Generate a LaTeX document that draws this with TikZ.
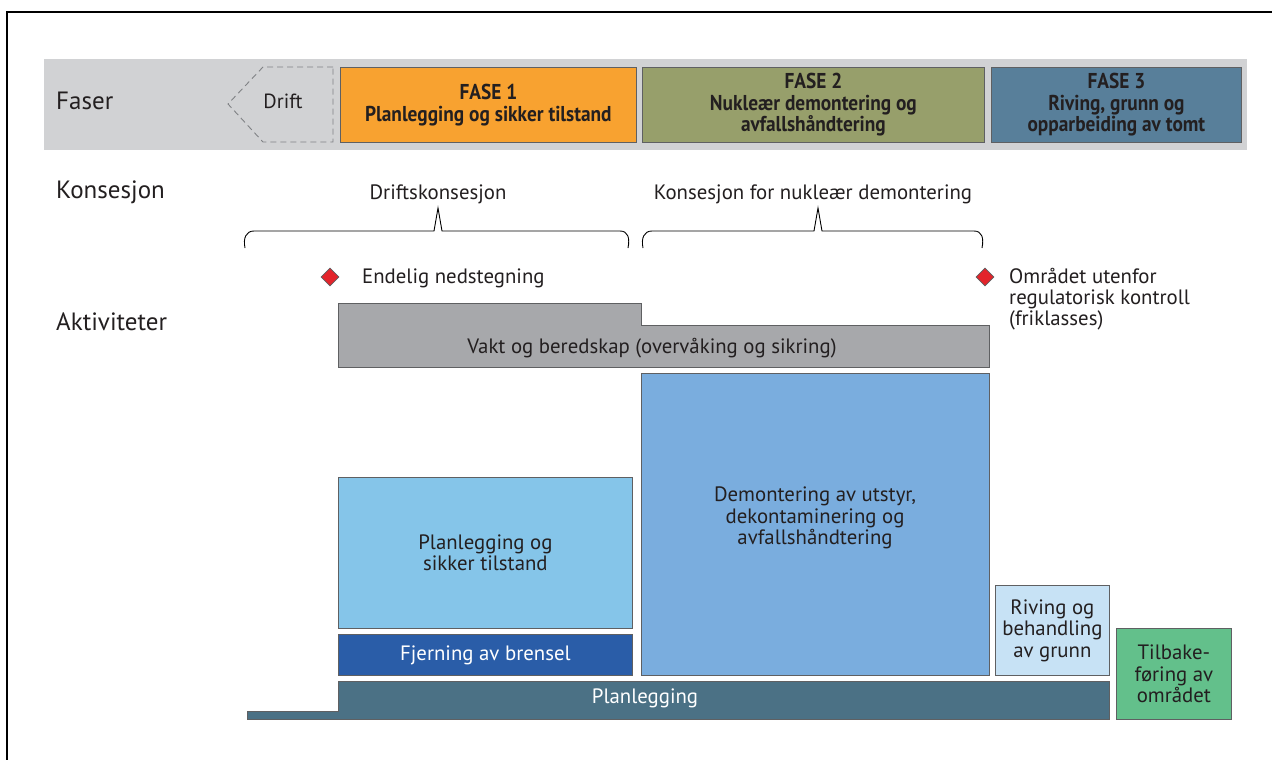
\documentclass[tikz,border=0pt]{standalone}
\usepackage{fontspec}
\setmainfont{PT Sans}
\newfontfamily\condfont{PT Sans}[FakeStretch=0.9]
\usetikzlibrary{shapes.geometric}
\definecolor{grayband}{HTML}{D1D2D4}
\definecolor{fase1}{HTML}{F8A230}
\definecolor{fase2}{HTML}{979F6B}
\definecolor{fase3}{HTML}{587F9A}
\definecolor{vaktc}{HTML}{A7A8AB}
\definecolor{demc}{HTML}{7AADDE}
\definecolor{pstc}{HTML}{85C5E9}
\definecolor{fjernc}{HTML}{2A5DA8}
\definecolor{rivc}{HTML}{C7E2F5}
\definecolor{planc}{HTML}{4B7185}
\definecolor{tilc}{HTML}{63C08B}
\definecolor{edgec}{HTML}{5F6062}
\definecolor{txt}{HTML}{231F20}
\definecolor{dashc}{HTML}{808285}
\definecolor{diac}{HTML}{E3242B}
\newcommand{\acttext}{\fontsize{20.8}{21.5}\selectfont}
\newcommand{\headtext}{\fontsize{25}{28}\selectfont}
\newcommand{\phasetext}{\condfont\bfseries\fontsize{21.5}{21.5}\selectfont}
\begin{document}
\begin{tikzpicture}[x=1pt,y=-1pt,
  box/.style={draw=edgec, line width=0.8pt, inner sep=0pt, anchor=north west, align=center, font=\acttext, text=txt},
  phasebox/.style={draw=edgec, line width=0.8pt, inner sep=0pt, anchor=north west, align=center, font=\phasetext, text=txt, minimum height=75},
  head/.style={anchor=west, font=\headtext, text=txt, inner sep=0pt},
  lbl/.style={font=\acttext, text=txt, inner sep=0pt, align=center},
  lblw/.style={font=\acttext, text=txt, inner sep=0pt, align=left, anchor=west},
  brace/.style={draw=black, line width=0.9pt},
  milestone/.style={diamond, draw=edgec, line width=0.8pt, fill=diac, minimum width=18, minimum height=18, inner sep=0pt},
  shapefill/.style={draw=edgec, line width=0.8pt}
]
\useasboundingbox (0,0) rectangle (1272,760);
\fill[white] (0,0) rectangle (1272,760);
\draw[line width=2.5pt] (7,760) -- (7,12) -- (1272,12);

% phase band
\fill[grayband] (44,59) rectangle (1247,150);
\node[head] (faser) at (56,101) {Faser};
\draw[dashc, dashed, dash pattern=on 6pt off 4pt, line width=0.9pt]
  (333,67) -- (263,67) -- (228,104) -- (263,142) -- (333,142) -- cycle;
\node[lbl, font=\fontsize{20.5}{22}\selectfont] (drift) at (283,101) {Drift};
\node[phasebox, fill=fase1, minimum width=296] (f1) at (340,67) {FASE 1\\Planlegging og sikker tilstand};
\node[phasebox, fill=fase2, minimum width=342] (f2) at (642,67) {FASE 2\\Nukleær demontering og\\avfallshåndtering};
\node[phasebox, fill=fase3, minimum width=250] (f3) at (991,67) {FASE 3\\Riving, grunn og\\opparbeiding av tomt};

% konsesjon
\node[head] (kons) at (56,192) {Konsesjon};
\node[lbl] (dk) at (438,194) {Driftskonsesjon};
\node[lbl] (kd) at (813,194) {Konsesjon for nukleær demontering};
\draw[brace] (245,248) .. controls (243,238) and (246,231) .. (254,231) -- (434,231) -- (438,208) -- (442,231) -- (620,231) .. controls (628,231) and (630,238) .. (628,248);
\draw[brace] (643,248) .. controls (641,238) and (644,231) .. (652,231) -- (814,231) -- (818,208) -- (822,231) -- (974,231) .. controls (982,231) and (984,238) .. (982,248);

% milestones
\node[milestone] (m1) at (330,277) {};
\node[lblw] (m1t) at (362,278) {Endelig nedstegning};
\node[milestone] (m2) at (985,277) {};
\node[lblw, anchor=north west, font=\fontsize{20.8}{21}\selectfont] (m2t) at (1009,268) {Området utenfor\\regulatorisk kontroll\\(friklasses)};

% aktiviteter
\node[head] (akt) at (56,322) {Aktiviteter};
\draw[shapefill, fill=vaktc] (338,303) -- (641,303) -- (641,325) -- (989,325) -- (989,367) -- (338,367) -- cycle;
\node[lbl] (vakt) at (652,348) {Vakt og beredskap (overvåking og sikring)};

\node[box, fill=demc, minimum width=348, minimum height=302] (dem) at (641,373) {};
\node[lbl] (demt) at (815,518) {Demontering av utstyr,\\dekontaminering og\\avfallshåndtering};
\node[box, fill=pstc, minimum width=294, minimum height=151] (pst) at (338,477) {Planlegging og\\sikker tilstand};
\node[box, fill=fjernc, text=white, minimum width=294, minimum height=41] (fj) at (338,634) {Fjerning av brensel};
\node[box, fill=rivc, minimum width=114, minimum height=90] (riv) at (995,585) {Riving og\\behandling\\av grunn};
\node[box, fill=tilc, minimum width=115, minimum height=91] (til) at (1116,628) {Tilbake-\\føring av\\området};

\draw[shapefill, fill=planc] (247,711) -- (338,711) -- (338,681) -- (1109,681) -- (1109,719) -- (247,719) -- cycle;
\node[lbl, text=white] (plan) at (645,698) {Planlegging};
\end{tikzpicture}
\end{document}
